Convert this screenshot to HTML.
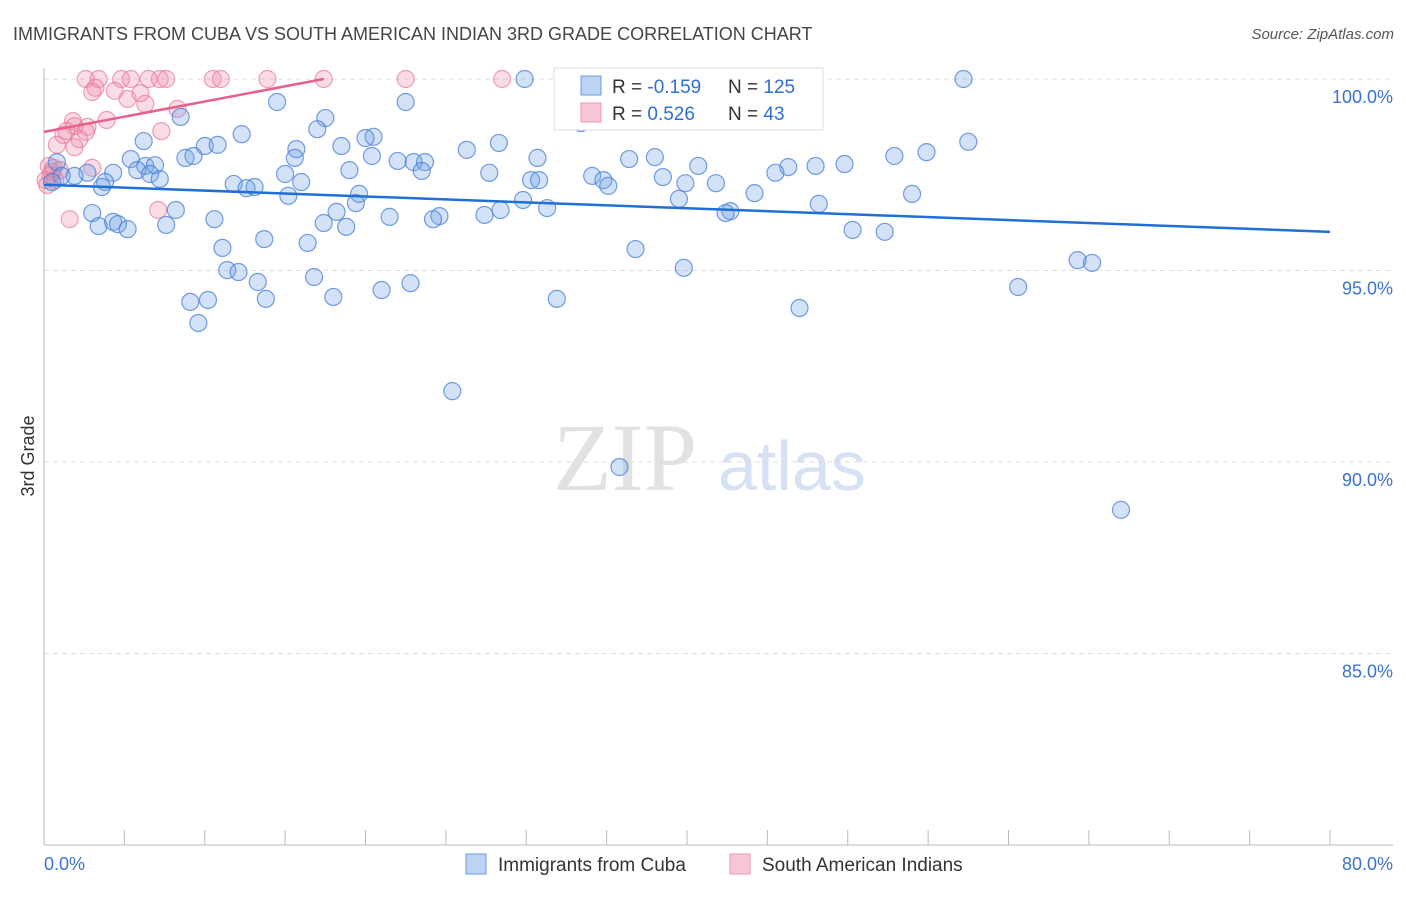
<!DOCTYPE html>
<html><head><meta charset="utf-8"><style>
body{margin:0;background:#fff;font-family:"Liberation Sans",sans-serif;}
svg text{font-family:"Liberation Sans",sans-serif;}
</style></head><body>
<svg id="chart" width="1406" height="892" xmlns="http://www.w3.org/2000/svg">
<text x="13" y="40" font-size="18" fill="#444">IMMIGRANTS FROM CUBA VS SOUTH AMERICAN INDIAN 3RD GRADE CORRELATION CHART</text>
<text x="1394" y="39" font-size="15" fill="#555" text-anchor="end" font-style="italic">Source: ZipAtlas.com</text>
<g>
<text x="553" y="490" font-size="96" fill="#e2e2e2" font-family="Liberation Serif" style="font-family:'Liberation Serif',serif">ZIP</text>
<text x="718" y="490" font-size="70" fill="#d6e2f3">atlas</text>
</g>
<g id="grid"></g>
<g id="axes"></g>
<g id="marks"></g>
<text transform="translate(34,456) rotate(-90)" font-size="18" fill="#333" text-anchor="middle">3rd Grade</text>
<g>
<rect x="554" y="68" width="269" height="62" fill="#fff" stroke="#ddd"/>
<rect x="581" y="76" width="20" height="19" fill="#bcd3f3" stroke="#6d9be0"/>
<rect x="581" y="103" width="20" height="19" fill="#f8c6d5" stroke="#eb97b0"/>
<text x="612" y="93" font-size="19" fill="#333">R = <tspan fill="#2f6fd0">-0.159</tspan></text>
<text x="728" y="93" font-size="19" fill="#333">N = <tspan fill="#2f6fd0">125</tspan></text>
<text x="612" y="120" font-size="19" fill="#333">R = <tspan fill="#2f6fd0"> 0.526</tspan></text>
<text x="728" y="120" font-size="19" fill="#333">N = <tspan fill="#2f6fd0"> 43</tspan></text>
</g>
<g>
<rect x="466" y="854" width="20" height="20" fill="#bcd3f3" stroke="#6d9be0"/>
<text x="498" y="871" font-size="19" fill="#333">Immigrants from Cuba</text>
<rect x="730" y="854" width="20" height="20" fill="#f8c6d5" stroke="#eb97b0"/>
<text x="762" y="871" font-size="19" fill="#333">South American Indians</text>
</g>
</svg>
<script>
const xTickVals=[0,10,20,30,40,50,60,70,80];
const yTickVals=[100,95,90,85];
const yTickLabels=["100.0%","95.0%","90.0%","85.0%"];
const xEndLabels=["0.0%","80.0%"];
const blueX=[29.9,57.2,14.5,22.5,8.5,17.5,17.0,12.3,20.5,20.0,57.5,6.2,28.3,10.0,10.8,15.7,18.5,26.3,54.9,52.9,20.4,30.7,38.0,36.4,5.4,8.8,9.3,15.6,22.0,23.0,23.7,49.8,48.0,46.3,40.7,6.3,6.9,0.8,19.0,27.7,23.5,4.3,5.8,6.6,7.2,34.1,34.8,38.5,45.5,30.3,30.8,15.0,16.0,11.8,12.6,13.1,35.1,41.8,39.9,3.8,3.6,2.7,1.9,1.1,0.5,19.6,44.2,54.0,15.2,29.8,39.5,48.2,19.4,31.3,3.0,8.2,18.2,27.4,28.4,42.7,42.4,21.5,10.6,24.6,24.2,17.4,18.8,3.4,4.3,4.6,5.2,7.6,13.7,16.4,11.1,36.8,50.3,52.3,11.4,12.1,39.8,64.3,65.2,13.3,16.8,22.8,21.0,60.6,18.0,13.8,31.9,10.2,9.1,47.0,9.6,25.4,35.8,67.0,33.4];
const blueY=[100,100,99.40,99.40,99.01,98.98,98.69,98.56,98.49,98.46,98.36,98.38,98.33,98.25,98.28,98.17,98.25,98.15,98.09,97.99,97.99,97.94,97.96,97.91,97.91,97.94,97.99,97.94,97.86,97.83,97.83,97.78,97.73,97.70,97.73,97.73,97.75,97.83,97.62,97.55,97.60,97.55,97.62,97.52,97.39,97.47,97.36,97.44,97.55,97.36,97.36,97.52,97.31,97.26,97.15,97.18,97.21,97.28,97.28,97.31,97.18,97.55,97.47,97.47,97.31,97.00,97.02,97.00,96.95,96.84,96.87,96.74,96.76,96.63,96.50,96.58,96.53,96.45,96.58,96.55,96.50,96.40,96.34,96.42,96.34,96.24,96.14,96.16,96.27,96.21,96.08,96.19,95.82,95.72,95.59,95.56,96.06,96.01,95.01,94.96,95.07,95.27,95.20,94.70,94.83,94.67,94.49,94.57,94.31,94.26,94.26,94.23,94.18,94.02,93.63,91.85,89.87,88.75,98.85];
const pinkX=[2.6,3.4,4.8,5.4,6.5,7.2,7.6,10.5,11.0,13.9,17.4,22.5,28.5,3.2,3.0,4.4,5.2,6.3,8.3,6.0,1.8,3.9,7.3,1.9,2.7,1.2,2.2,1.4,0.8,3.0,0.3,0.5,0.1,0.2,0.7,7.1,1.6,1.0,1.9,2.6,0.4,0.6];
const pinkY=[100,100,100,100,100,100,100,100,100,100,100,100,100,99.77,99.66,99.69,99.48,99.35,99.22,99.63,98.90,98.93,98.64,98.77,98.75,98.54,98.43,98.64,98.28,97.68,97.73,97.57,97.36,97.23,97.36,96.58,96.34,97.62,98.22,98.62,97.49,97.68];
const blueTrendX=[0,80], blueTrendY=[97.24,96.01];
const pinkTrendX=[0,17.4], pinkTrendY=[98.62,100];

const X0=44,X1=1330,Y0=845,Y1=79;
const sx=v=>X0+(v-0)/(80-0)*(X1-X0);
const sy=v=>Y0-(v-80)/(100-80)*(Y0-Y1);
const NS="http://www.w3.org/2000/svg";
function mk(parent,tag,attrs){const e=document.createElementNS(NS,tag);for(const k in attrs)e.setAttribute(k,attrs[k]);parent.appendChild(e);return e;}
const grid=document.getElementById('grid'),axes=document.getElementById('axes'),marks=document.getElementById('marks');
yTickVals.forEach((v,i)=>{
 const l=mk(grid,'line',{x1:X0,x2:X1+60,y1:sy(v),y2:sy(v),stroke:'#ddd','stroke-dasharray':'5,4'});
 
 
 const t=mk(axes,'text',{x:1393,y:sy(v)+24,'font-size':18,fill:'#3b73d0','text-anchor':'end'});
 t.textContent=yTickLabels[i];
 
 
});
const ya=mk(axes,'line',{x1:X0,x2:X0,y1:68,y2:Y0,stroke:'#bbb'});


const xa=mk(axes,'line',{x1:X0,x2:1393,y1:Y0,y2:Y0,stroke:'#bbb'});


xTickVals.forEach(v=>{
 for(const off of [0,5]){ if(v+off>80) continue;
 const tk=mk(axes,'line',{x1:sx(v+off),x2:sx(v+off),y1:Y0-15,y2:Y0,stroke:'#bbb'});
 
 }
});
[[0,'start',X0],[1,'end',1393]].forEach(([i,a,x])=>{
 const t=mk(axes,'text',{x:x,y:870,'font-size':18,fill:'#3b73d0','text-anchor':a});
 t.textContent=xEndLabels[i];
 
 
});
pinkX.forEach((x,i)=>{
 const c=mk(marks,'circle',{cx:sx(x),cy:sy(pinkY[i]),r:8.5,fill:'rgba(240,140,170,0.3)',stroke:'rgba(232,120,155,0.7)','stroke-width':1.2});
 
 
});
blueX.forEach((x,i)=>{
 const c=mk(marks,'circle',{cx:sx(x),cy:sy(blueY[i]),r:8.5,fill:'rgba(110,160,230,0.3)',stroke:'rgba(70,125,215,0.75)','stroke-width':1.2});
 
 
});
const bl=mk(marks,'line',{x1:sx(blueTrendX[0]),y1:sy(blueTrendY[0]),x2:sx(blueTrendX[1]),y2:sy(blueTrendY[1]),stroke:'#1f6fd6','stroke-width':2.5});


const pl=mk(marks,'line',{x1:sx(pinkTrendX[0]),y1:sy(pinkTrendY[0]),x2:sx(pinkTrendX[1]),y2:sy(pinkTrendY[1]),stroke:'#e8608a','stroke-width':2.5});


</script>
</body></html>
